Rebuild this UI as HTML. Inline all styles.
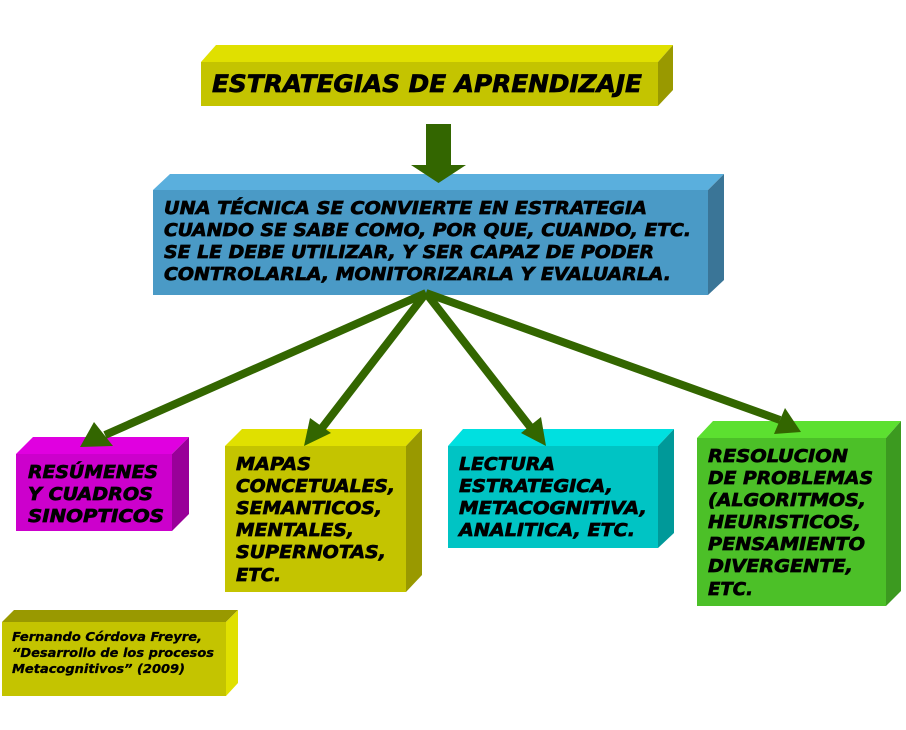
<!DOCTYPE html>
<html><head><meta charset="utf-8"><style>
html,body{margin:0;padding:0;background:#fff;}
svg{display:block;}
text{font-family:"DejaVu Sans","Liberation Sans",sans-serif;font-weight:bold;font-style:italic;fill:#000;stroke:#000;stroke-width:0.7px;}
</style></head><body>
<svg width="906" height="730" viewBox="0 0 906 730" xmlns="http://www.w3.org/2000/svg">
<!-- Title -->
<polygon points="201,62 216,45 673,45 658,62" fill="#E0E000"/>
<polygon points="658,62 673,45 673,90 658,106" fill="#999900"/>
<rect x="201" y="62" width="457" height="44" fill="#C4C400"/>
<text x="212" y="92" font-size="24" textLength="430" lengthAdjust="spacingAndGlyphs">ESTRATEGIAS DE APRENDIZAJE</text>
<!-- Blue box -->
<polygon points="153,190 170,174 724,174 708,190" fill="#5AAFDD"/>
<polygon points="708,190 724,174 724,280 708,295" fill="#3A7597"/>
<rect x="153" y="190" width="555" height="105" fill="#4A9AC6"/>
<!-- Down arrow -->
<polygon points="426,124 451,124 451,165 466,165 438.5,183 411,165 426,165" fill="#336600"/>
<text font-size="17.5">
<tspan x="164" y="214" textLength="483" lengthAdjust="spacingAndGlyphs">UNA TÉCNICA SE CONVIERTE EN ESTRATEGIA</tspan>
<tspan x="164" y="236" textLength="527" lengthAdjust="spacingAndGlyphs">CUANDO SE SABE COMO, POR QUE,  CUANDO, ETC.</tspan>
<tspan x="164" y="258" textLength="490" lengthAdjust="spacingAndGlyphs">SE LE DEBE UTILIZAR, Y SER CAPAZ DE PODER</tspan>
<tspan x="164" y="280" textLength="507" lengthAdjust="spacingAndGlyphs">CONTROLARLA, MONITORIZARLA Y EVALUARLA.</tspan>
</text>
<!-- Magenta -->
<polygon points="16,454 33,437 189,437 172,454" fill="#E000E0"/>
<polygon points="172,454 189,437 189,514 172,531" fill="#990099"/>
<rect x="16" y="454" width="156" height="77" fill="#CC00CC"/>
<text font-size="18">
<tspan x="28" y="478" textLength="130" lengthAdjust="spacingAndGlyphs">RESÚMENES</tspan>
<tspan x="28" y="500" textLength="125" lengthAdjust="spacingAndGlyphs">Y CUADROS</tspan>
<tspan x="28" y="522" textLength="136" lengthAdjust="spacingAndGlyphs">SINOPTICOS</tspan>
</text>
<!-- Yellow Mapas -->
<polygon points="225,446 242,429 422,429 406,446" fill="#E0E000"/>
<polygon points="406,446 422,429 422,575 406,592" fill="#999900"/>
<rect x="225" y="446" width="181" height="146" fill="#C4C400"/>
<text font-size="18">
<tspan x="236" y="470" textLength="75" lengthAdjust="spacingAndGlyphs">MAPAS</tspan>
<tspan x="236" y="492" textLength="159" lengthAdjust="spacingAndGlyphs">CONCETUALES,</tspan>
<tspan x="236" y="514" textLength="146" lengthAdjust="spacingAndGlyphs">SEMANTICOS,</tspan>
<tspan x="236" y="536" textLength="118" lengthAdjust="spacingAndGlyphs">MENTALES,</tspan>
<tspan x="236" y="558" textLength="150" lengthAdjust="spacingAndGlyphs">SUPERNOTAS,</tspan>
<tspan x="236" y="581" textLength="45" lengthAdjust="spacingAndGlyphs">ETC.</tspan>
</text>
<!-- Cyan -->
<polygon points="448,446 463,429 674,429 658,446" fill="#00E0E0"/>
<polygon points="658,446 674,429 674,533 658,548" fill="#009999"/>
<rect x="448" y="446" width="210" height="102" fill="#00C4C4"/>
<text font-size="18">
<tspan x="459" y="470" textLength="96" lengthAdjust="spacingAndGlyphs">LECTURA</tspan>
<tspan x="459" y="492" textLength="154" lengthAdjust="spacingAndGlyphs">ESTRATEGICA,</tspan>
<tspan x="459" y="514" textLength="188" lengthAdjust="spacingAndGlyphs">METACOGNITIVA,</tspan>
<tspan x="459" y="536" textLength="176" lengthAdjust="spacingAndGlyphs">ANALITICA, ETC.</tspan>
</text>
<!-- Green -->
<polygon points="697,438 713,421 901,421 886,438" fill="#5CE030"/>
<polygon points="886,438 901,421 901,591 886,606" fill="#3C9A20"/>
<rect x="697" y="438" width="189" height="168" fill="#4CC028"/>
<text font-size="18">
<tspan x="708" y="462" textLength="140" lengthAdjust="spacingAndGlyphs">RESOLUCION</tspan>
<tspan x="708" y="484" textLength="165" lengthAdjust="spacingAndGlyphs">DE PROBLEMAS</tspan>
<tspan x="708" y="506" textLength="158" lengthAdjust="spacingAndGlyphs">(ALGORITMOS,</tspan>
<tspan x="708" y="528" textLength="153" lengthAdjust="spacingAndGlyphs">HEURISTICOS,</tspan>
<tspan x="708" y="550" textLength="157" lengthAdjust="spacingAndGlyphs">PENSAMIENTO</tspan>
<tspan x="708" y="572" textLength="145" lengthAdjust="spacingAndGlyphs">DIVERGENTE,</tspan>
<tspan x="708" y="595" textLength="45" lengthAdjust="spacingAndGlyphs">ETC.</tspan>
</text>
<!-- Citation -->
<polygon points="2,622 14,610 238,610 226,622" fill="#999900"/>
<polygon points="226,622 238,610 238,683 226,696" fill="#E0E000"/>
<rect x="2" y="622" width="224" height="74" fill="#C4C400"/>
<text font-size="12.5" style="stroke-width:0.3px">
<tspan x="12" y="641" textLength="190" lengthAdjust="spacingAndGlyphs">Fernando  Córdova Freyre,</tspan>
<tspan x="12" y="657" textLength="202" lengthAdjust="spacingAndGlyphs">“Desarrollo de los procesos</tspan>
<tspan x="12" y="673" textLength="173" lengthAdjust="spacingAndGlyphs">Metacognitivos” (2009)</tspan>
</text>
<!-- Connector arrows -->
<g stroke="#336600" stroke-width="8" stroke-linecap="butt">
<line x1="426" y1="293" x2="105" y2="435"/>
<line x1="426" y1="293" x2="322" y2="428"/>
<line x1="426" y1="293" x2="531" y2="428"/>
<line x1="426" y1="293" x2="780" y2="420"/>
</g>
<g fill="#336600">
<polygon points="80,447 94,422 113,446"/>
<polygon points="304,446 310,418 331,433"/>
<polygon points="546,446 521,433 541,417"/>
<polygon points="801,432 774,434 785,408"/>
</g>
</svg>
</body></html>
